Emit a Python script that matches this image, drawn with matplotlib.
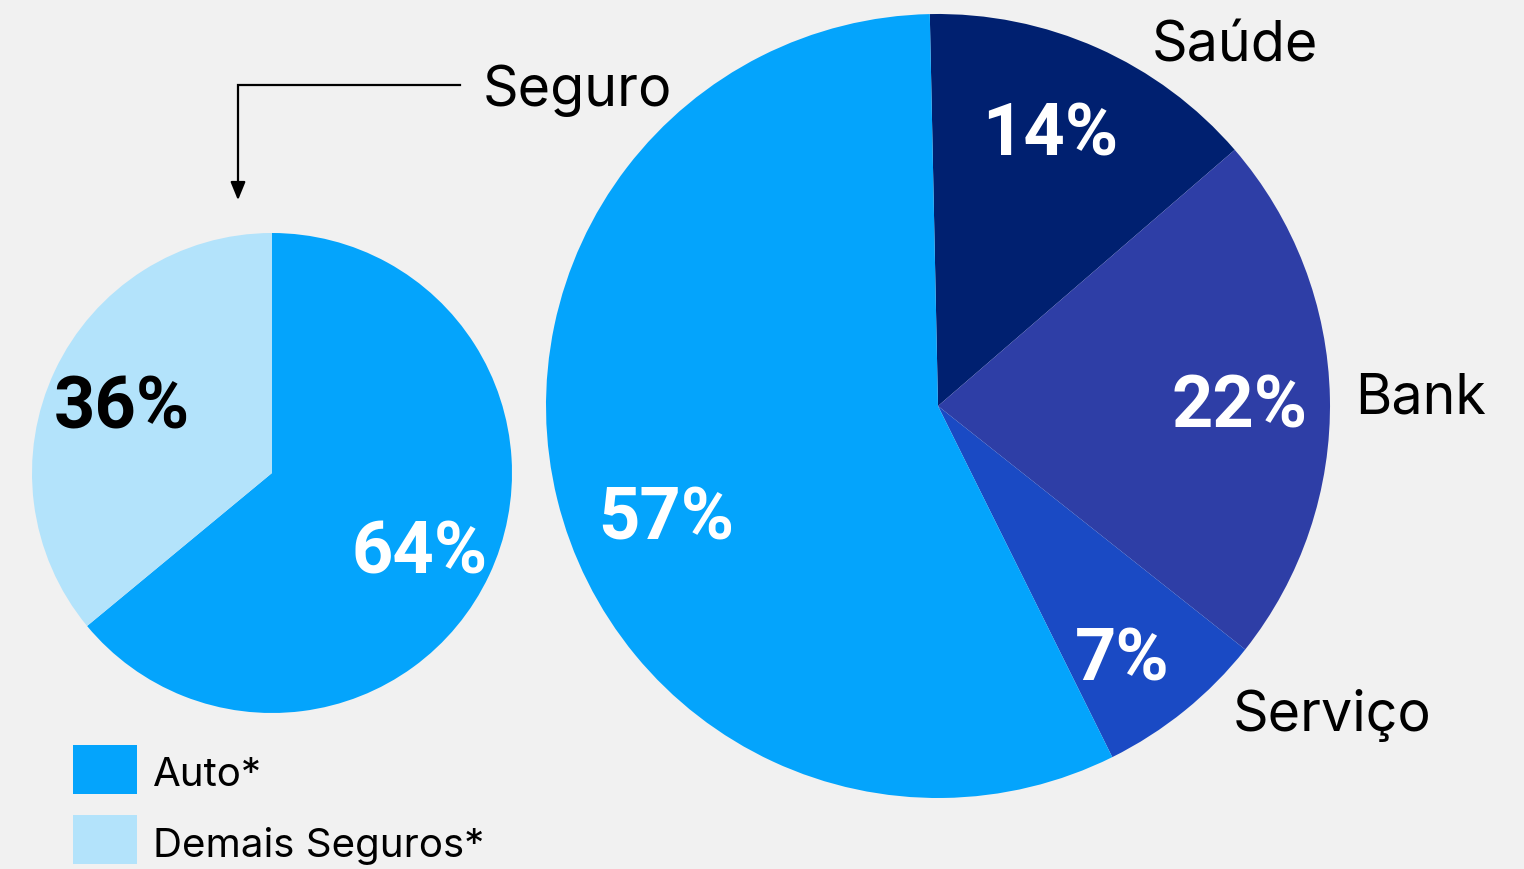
import matplotlib.pyplot as plt
from matplotlib.patches import Rectangle

# main split of the business
big_labels = ['Saúde', 'Bank', 'Serviço', 'Seguro']
big_values = [14, 22, 7, 57]
big_colors = ['#002070', '#2E3EA6', '#1A4AC4', '#04A4FC']

# breakdown of Seguro
small_labels = ['Auto*', 'Demais Seguros*']
small_values = [64, 36]
small_colors = ['#04A4FC', '#B3E3FB']

BG = '#F1F1F1'
H = 870

plt.rcParams['font.family'] = ['Inter', 'DejaVu Sans']

fig = plt.figure(figsize=(15.24, 8.70), dpi=100, facecolor=BG)
ax = fig.add_axes([0, 0, 1, 1])
ax.set_facecolor(BG)

# big pie
ax.pie(big_values, colors=big_colors, startangle=91.2, counterclock=False,
       center=(938, H - 407), radius=392, frame=True,
       wedgeprops={'linewidth': 0})
# small pie
ax.pie(small_values, colors=small_colors, startangle=90, counterclock=False,
       center=(272, H - 474), radius=240, frame=True,
       wedgeprops={'linewidth': 0})
ax.set_xlim(0, 1524)
ax.set_ylim(0, H)
ax.set_aspect('equal')
ax.axis('off')

pct_kw = dict(fontsize=52, fontweight='bold', ha='center', va='center',
              family=['Roboto', 'DejaVu Sans'])
big_pct_pos = [(1050, 136), (1240, 408), (1122, 661), (666, 520)]
for v, (x, y) in zip(big_values, big_pct_pos):
    ax.text(x, H - y, f'{v}%', color='white', **pct_kw)
small_pct_pos = [(420, 554), (122, 409)]
small_pct_col = ['white', 'black']
for v, (x, y), c in zip(small_values, small_pct_pos, small_pct_col):
    ax.text(x, H - y, f'{v}%', color=c, **pct_kw)

# outer category labels
name_pos = [(1152, 46), (1355, 399), (1233, 716)]
for name, (x, y) in zip(big_labels[:3], name_pos):
    ax.text(x, H - y, name, fontsize=40, ha='left', va='center', color='black')
ax.text(483, H - 91, big_labels[3], fontsize=40, ha='left', va='center', color='black')

# elbow arrow from Seguro to small pie
ax.plot([460, 238, 238], [H - 86, H - 86, H - 192], color='black', lw=1.6,
        solid_joinstyle='miter')
ax.annotate('', xy=(238, H - 204), xytext=(238, H - 188),
            arrowprops=dict(arrowstyle='-|>,head_length=1.1,head_width=0.45',
                            color='black', lw=1.6))

# legend
for i, (lab, col) in enumerate(zip(small_labels, small_colors)):
    y0 = 746 + i * 70
    ax.add_patch(Rectangle((73, H - y0 - 49), 64, 49, color=col, lw=0))
    ax.text(153, H - y0 - 30, lab, fontsize=29, ha='left', va='center',
            color='black')

fig.savefig('out.png', dpi=100, facecolor=BG)
